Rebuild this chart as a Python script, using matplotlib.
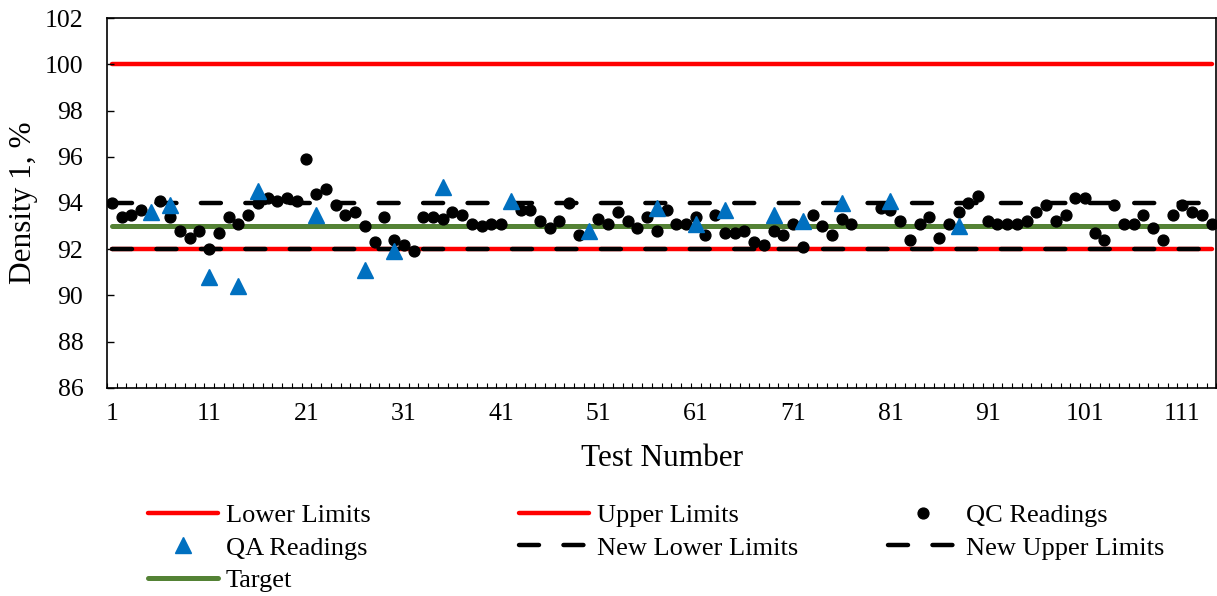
import matplotlib.pyplot as plt
import numpy as np

plt.rcParams['font.family'] = ['Liberation Serif', 'DejaVu Serif']

nan = np.nan

# QC density readings, one per test (nan = no reading)
qc_density = [
    94.0, 93.4, 93.5, 93.7, nan, 94.1, 93.4, 92.8, 92.5, 92.8,
    92.0, 92.7, 93.4, 93.1, 93.5, 94.0, 94.2, 94.1, 94.2, 94.1,
    95.9, 94.4, 94.6, 93.9, 93.5, 93.6, 93.0, 92.3, 93.4, 92.4,
    92.2, 91.9, 93.4, 93.4, 93.3, 93.6, 93.5, 93.1, 93.0, 93.1,
    93.1, nan, 93.7, 93.7, 93.2, 92.9, 93.2, 94.0, 92.6, nan,
    93.3, 93.1, 93.6, 93.2, 92.9, 93.4, 92.8, 93.7, 93.1, 93.1,
    93.4, 92.6, 93.5, 92.7, 92.7, 92.8, 92.3, 92.2, 92.8, 92.6,
    93.1, 92.1, 93.5, 93.0, 92.6, 93.3, 93.1, nan, nan, 93.8,
    93.7, 93.2, 92.4, 93.1, 93.4, 92.5, 93.1, 93.6, 94.0, 94.3,
    93.2, 93.1, 93.1, 93.1, 93.2, 93.6, 93.9, 93.2, 93.5, 94.2,
    94.2, 92.7, 92.4, 93.9, 93.1, 93.1, 93.5, 92.9, 92.4, 93.5,
    93.9, 93.6, 93.5, 93.1,
]
tests = np.arange(1, len(qc_density) + 1)

# QA readings
qa_tests = [5, 7, 11, 14, 16, 22, 27, 30, 35, 42, 50, 57, 61, 64, 69, 72, 76, 81, 88]
qa_density = [93.6, 93.9, 90.8, 90.4, 94.5, 93.5, 91.1, 91.9, 94.7, 94.1,
              92.8, 93.8, 93.1, 93.7, 93.5, 93.2, 94.0, 94.1, 93.0]

lower_limit = 92
upper_limit = 100
new_lower_limit = 92
new_upper_limit = 94
target = 93

fig = plt.figure(figsize=(12.17, 5.96), dpi=100)
ax = fig.add_axes([0.0879, 0.3495, 0.9116, 0.6198])

n = len(tests)
red = '#FF0000'
green = '#548235'
blue = '#0070C0'
dash = (4.5, 5.5)

h_low, = ax.plot(tests, np.full(n, lower_limit), color=red, lw=3.2,
                 solid_capstyle='round', zorder=1, label='Lower Limits')
h_up, = ax.plot(tests, np.full(n, upper_limit), color=red, lw=3.2,
                solid_capstyle='round', zorder=1, label='Upper Limits')
h_tgt, = ax.plot(tests, np.full(n, target), color=green, lw=3.6,
                 solid_capstyle='round', zorder=2, label='Target')
h_nlow, = ax.plot(tests, np.full(n, new_lower_limit), color='black', lw=3.2,
                  dashes=dash, dash_capstyle='round', zorder=3, label='New Lower Limits')
h_nup, = ax.plot(tests, np.full(n, new_upper_limit), color='black', lw=3.2,
                 dashes=dash, dash_capstyle='round', zorder=3, label='New Upper Limits')
h_qc, = ax.plot(tests, qc_density, 'o', color='black', ms=7.8, zorder=4,
                label='QC Readings')
h_qa, = ax.plot(qa_tests, qa_density, '^', color=blue, ms=11, mec=blue,
                zorder=5, label='QA Readings')

ax.set_xlim(0.5, n + 0.5)
ax.set_ylim(86, 102)
ax.set_yticks(np.arange(86, 103, 2))
ax.set_xticks(np.arange(1, n + 1, 10))
ax.set_xticks(np.arange(0.5, n + 1, 1), minor=True)

ax.tick_params(axis='x', which='major', length=0, pad=11, labelsize=18.5)
ax.tick_params(axis='x', which='minor', direction='in', length=3.5, width=0.8)
ax.tick_params(axis='y', which='major', direction='in', length=5, width=1,
               pad=17, labelsize=18.5)
for s in ax.spines.values():
    s.set_linewidth(1.2)

ax.set_xlabel('Test Number', fontsize=22.5, labelpad=14)
ax.set_ylabel('Density 1, %', fontsize=22.5, labelpad=5)

legend_cols = [
    ([h_low, h_qa, h_tgt], 148),
    ([h_up, h_nlow], 519),
    ([h_qc, h_nup], 888),
]
for handles, x0 in legend_cols:
    fig.legend(handles=handles, loc='upper left',
               bbox_to_anchor=(x0 / 1217, 1 - 504 / 596),
               frameon=False, fontsize=19, handlelength=2.65,
               handletextpad=0.3, labelspacing=0.33, borderpad=0,
               borderaxespad=0)

fig.savefig('out.png', dpi=100)
